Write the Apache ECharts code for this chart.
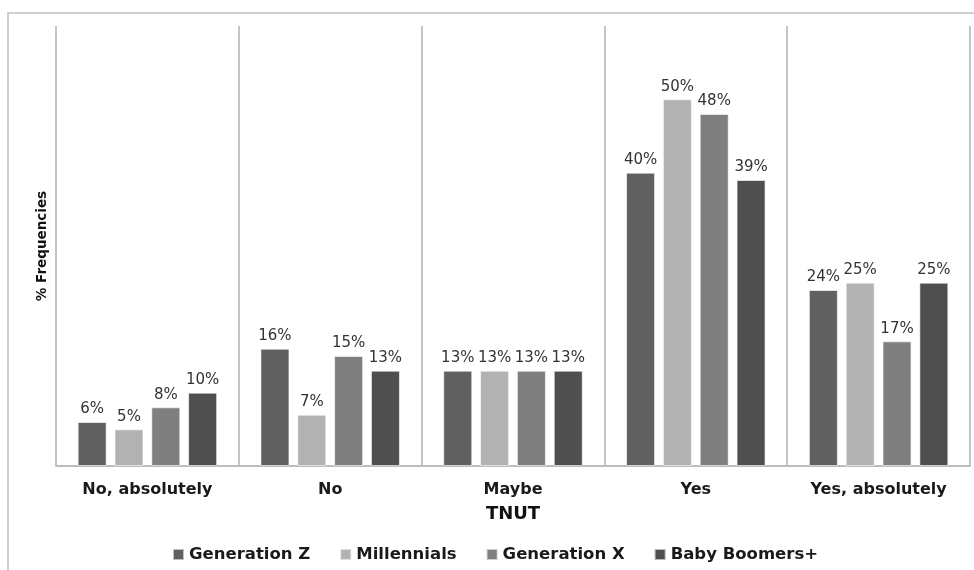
<!DOCTYPE html>
<html>
<head>
<meta charset="utf-8">
<script src="https://cdn.jsdelivr.net/npm/echarts@6/dist/echarts.min.js"></script>
<style>
  html, body { margin: 0; padding: 0; background: #fff; }
  #chart { width: 974px; height: 570px; }
</style>
</head>
<body>
<div id="chart"></div>
<script>
// Answer categories on the TNUT scale
const categories = ['No, absolutely', 'No', 'Maybe', 'Yes', 'Yes, absolutely'];

// Percent frequencies per generation
const generationZ   = [6, 16, 13, 40, 24];
const millennials   = [5, 7, 13, 50, 25];
const generationX   = [8, 15, 13, 48, 17];
const babyBoomers   = [10, 13, 13, 39, 25];

const seriesNames  = ['Generation Z', 'Millennials', 'Generation X', 'Baby Boomers+'];
const seriesValues = [generationZ, millennials, generationX, babyBoomers];
const seriesColors = ['#606060', '#b2b2b2', '#7f7f7f', '#4f4f4f'];

const FONT = '"DejaVu Sans", sans-serif';

const chart = echarts.init(document.getElementById('chart'));

chart.setOption({
  animation: false,
  backgroundColor: '#ffffff',
  textStyle: { fontFamily: FONT },
  graphic: [{
    type: 'rect',
    silent: true,
    shape: { x: 8, y: 13, width: 1000, height: 620 },
    style: { fill: 'none', stroke: '#d0d0d0', lineWidth: 2 }
  }],
  grid: { left: 56, right: 4, top: 26, bottom: 104 },
  legend: {
    top: 541,
    left: 167,
    itemWidth: 11,
    itemHeight: 11,
    itemGap: 29,
    icon: 'rect',
    textStyle: { fontSize: 16.5, color: '#1a1a1a', fontFamily: FONT, fontWeight: 'bold' }
  },
  xAxis: {
    type: 'category',
    data: categories,
    name: 'TNUT',
    nameLocation: 'middle',
    nameGap: 39,
    nameTextStyle: { fontSize: 18, fontWeight: 'bold', color: '#111', fontFamily: FONT },
    axisLine: { lineStyle: { color: '#bdbdbd', width: 2 } },
    axisTick: { show: false },
    axisLabel: { fontSize: 16, fontWeight: 'bold', color: '#1a1a1a', margin: 16, fontFamily: FONT },
    splitLine: { show: true, lineStyle: { color: '#c4c4c4', width: 2 } }
  },
  yAxis: {
    type: 'value',
    min: 0,
    max: 60,
    name: '% Frequencies',
    nameLocation: 'middle',
    nameRotate: 90,
    nameGap: 7,
    nameTextStyle: { fontSize: 13.5, fontWeight: 'bold', color: '#111', fontFamily: FONT },
    axisLine: { show: false },
    axisTick: { show: false },
    axisLabel: { show: false },
    splitLine: { show: false }
  },
  series: seriesNames.map((name, i) => ({
    name: name,
    type: 'bar',
    data: seriesValues[i],
    barWidth: 29,
    barGap: '27%',
    itemStyle: { color: seriesColors[i], borderColor: 'rgba(255,255,255,0.6)', borderWidth: 1 },
    label: {
      show: true,
      position: 'top',
      distance: 5,
      formatter: '{c}%',
      fontSize: 15,
      color: '#333',
      fontFamily: FONT
    }
  }))
});
</script>
</body>
</html>
